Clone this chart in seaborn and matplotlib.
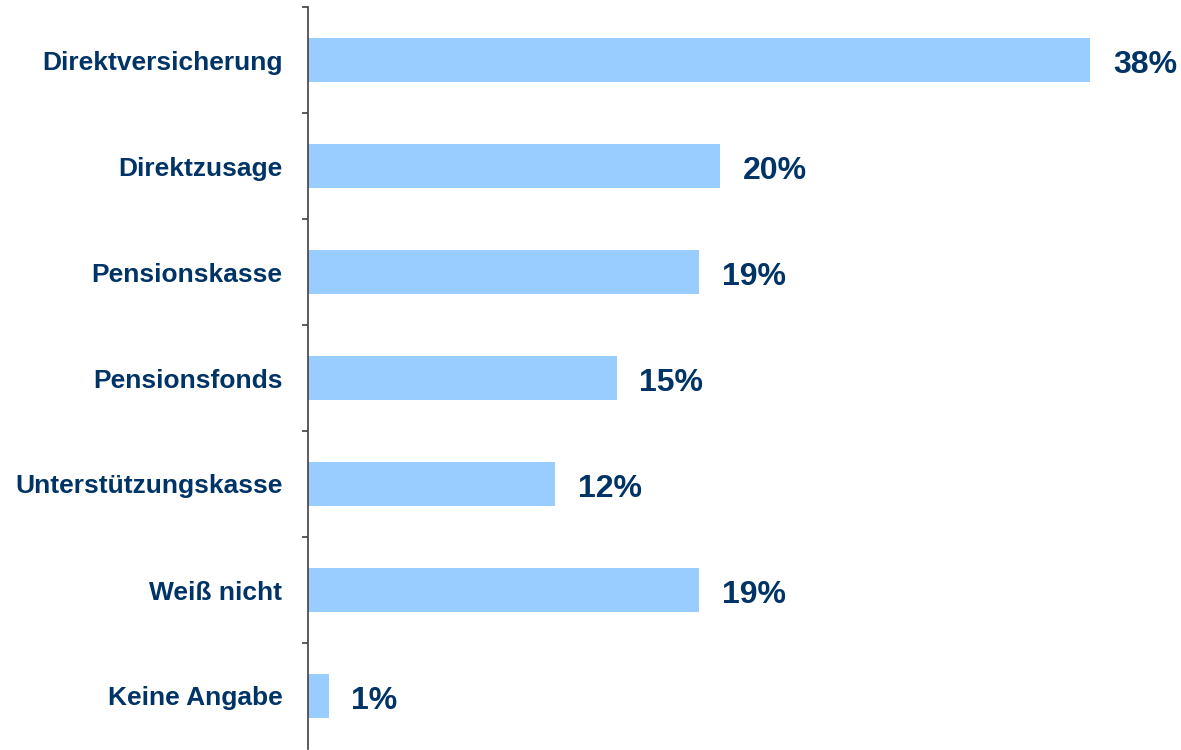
import matplotlib
matplotlib.use("Agg")
import matplotlib.pyplot as plt
import seaborn as sns
import pandas as pd
import numpy as np
from matplotlib.ticker import FixedLocator

categories = ["Direktversicherung", "Direktzusage", "Pensionskasse", "Pensionsfonds",
              "Unterstützungskasse", "Weiß nicht", "Keine Angabe"]
shares = [38, 20, 19, 15, 12, 19, 1]

df = pd.DataFrame({"Kategorie": categories, "Anteil": shares})

sns.set_theme(style="white")
plt.rcParams["font.family"] = ["Liberation Sans", "DejaVu Sans"]

navy = "#003366"
bar_color = "#99CCFF"

fig = plt.figure(figsize=(11.81, 7.5), dpi=100)
ax = fig.add_axes([308 / 1181, 1 - 749 / 750, (1181 - 308) / 1181, 742 / 750])

sns.barplot(data=df, x="Anteil", y="Kategorie", orient="h", color=bar_color,
            saturation=1, width=0.42, linewidth=0, ax=ax)

ax.set_xlim(0, 42.4)
ax.set_ylim(len(categories) - 0.5, -0.5)

# value labels sit slightly below the bar centre
for i, v in enumerate(shares):
    ax.text(v + 1.1, i + 0.045, f"{v}%", va="center", ha="left", fontsize=23,
            fontweight="bold", color=navy)

ax.set_xlabel("")
ax.set_ylabel("")
ax.set_xticks([])
for s in ["top", "right", "bottom"]:
    ax.spines[s].set_visible(False)
ax.spines["left"].set_color("#404040")
ax.spines["left"].set_linewidth(1.2)

ax.yaxis.set_minor_locator(FixedLocator(np.arange(-0.5, len(categories) - 0.5, 1.0)))
ax.tick_params(axis="y", which="major", length=0, pad=18.5, labelsize=19,
               labelcolor=navy)
ax.tick_params(axis="y", which="minor", length=4, width=1.2, color="#404040", left=True)
for lbl in ax.get_yticklabels():
    lbl.set_fontweight("bold")

fig.savefig("out.png", dpi=100)
